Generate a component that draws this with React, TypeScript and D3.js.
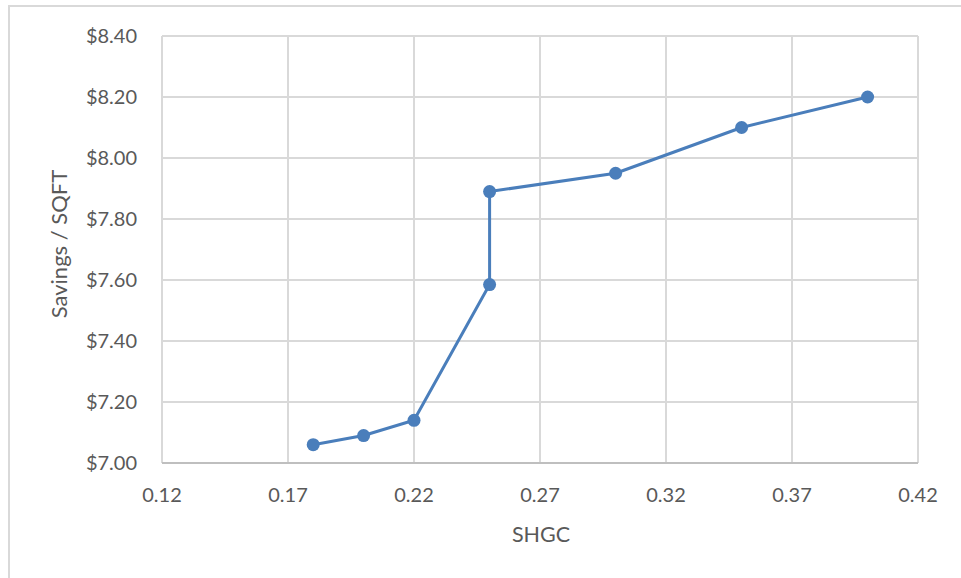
import React from "react";
import * as d3 from "d3";

// SHGC vs. savings per square foot
const shgc = [0.18, 0.2, 0.22, 0.25, 0.25, 0.3, 0.35, 0.4];
const savings = [7.06, 7.09, 7.14, 7.585, 7.89, 7.95, 8.1, 8.2];
const xTicks = [0.12, 0.17, 0.22, 0.27, 0.32, 0.37, 0.42];
const yTicks = [7.0, 7.2, 7.4, 7.6, 7.8, 8.0, 8.2, 8.4];

const W = 961;
const H = 578;
const plot = { left: 162, right: 918, top: 36, bottom: 463 };
const FONT = "Lato, 'Open Sans', sans-serif";
const TEXT = "#595959";
const GRID = "#d9d9d9";
const SERIES = "#4a7ebb";

export default function App() {
  const x = d3.scaleLinear().domain([0.12, 0.42]).range([plot.left, plot.right]);
  const y = d3.scaleLinear().domain([7.0, 8.4]).range([plot.bottom, plot.top]);
  const pts = shgc.map((v, i) => [x(v), y(savings[i])] as [number, number]);
  const line = d3.line<[number, number]>()(pts) ?? "";

  return (
    <svg
      width={W}
      height={H}
      style={{ position: "absolute", left: 0, top: 0, background: "#fff" }}
    >
      <rect x={9} y={6} width={W} height={H} fill="#fff" stroke={GRID} strokeWidth={2} />
      {xTicks.map((t) => (
        <line key={"vx" + t} x1={x(t)} x2={x(t)} y1={plot.top} y2={plot.bottom} stroke={GRID} strokeWidth={2} />
      ))}
      {yTicks.map((t) => (
        <line key={"hy" + t} x1={plot.left} x2={plot.right} y1={y(t)} y2={y(t)} stroke={GRID} strokeWidth={2} />
      ))}
      <line x1={plot.left} x2={plot.right} y1={plot.bottom} y2={plot.bottom} stroke="#bfbfbf" strokeWidth={2} />
      {yTicks.map((t) => (
        <text
          key={"yl" + t}
          x={137}
          y={y(t)}
          dy="0.35em"
          textAnchor="end"
          fontFamily={FONT}
          fontSize={20}
          fill={TEXT}
        >
          {"$" + t.toFixed(2)}
        </text>
      ))}
      {xTicks.map((t) => (
        <text
          key={"xl" + t}
          x={x(t)}
          y={502}
          textAnchor="middle"
          fontFamily={FONT}
          fontSize={20}
          fill={TEXT}
        >
          {t.toFixed(2)}
        </text>
      ))}
      <text x={541} y={542} textAnchor="middle" fontFamily={FONT} fontSize={21.5} fill={TEXT}>
        SHGC
      </text>
      <text
        transform={`translate(67,244) rotate(-90)`}
        textAnchor="middle"
        fontFamily={FONT}
        fontSize={22}
        fill={TEXT}
      >
        Savings / SQFT
      </text>
      <path d={line} fill="none" stroke={SERIES} strokeWidth={3} strokeLinejoin="round" />
      {pts.map(([px, py], i) => (
        <circle key={i} cx={px} cy={py} r={6.5} fill={SERIES} />
      ))}
    </svg>
  );
}
